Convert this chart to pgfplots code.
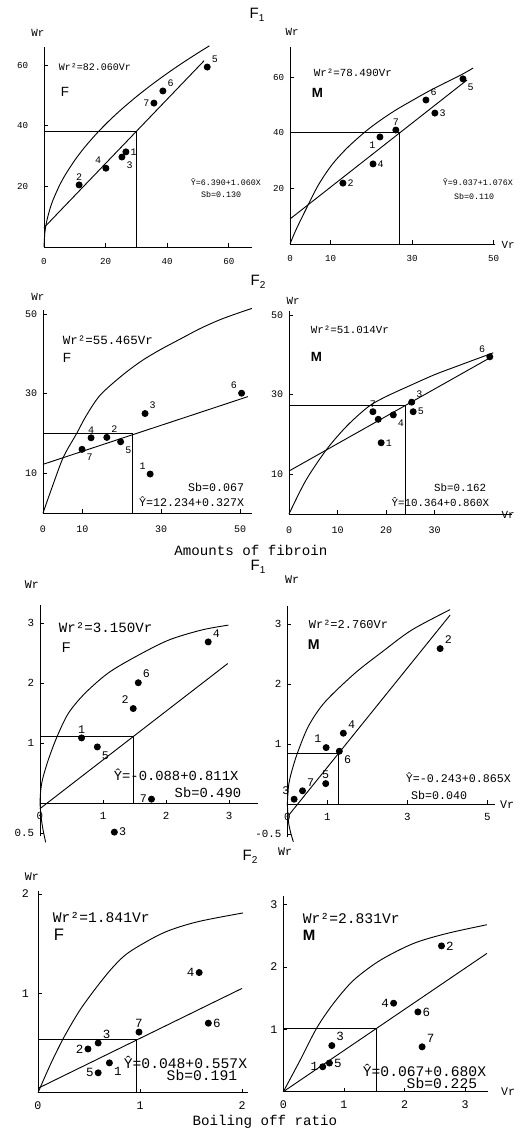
\documentclass[border=0pt]{standalone}
\usepackage{fontspec}
\setmainfont{Liberation Mono}
\newfontfamily\sfF{Liberation Sans}
\usepackage{pgfplots}
\pgfplotsset{compat=1.18}
\newcommand{\fs}[1]{\fontsize{#1}{#1}\selectfont}
\pgfplotsset{
  panel/.style={scale only axis, clip=false, anchor=south west,
    axis lines*=left, axis line style={line width=0.5pt},
    tick align=inside, major tick length=2.2pt,
    tick style={line width=0.5pt,black},
    /pgf/number format/assume math mode=true,
    hide obscured x ticks=false, hide obscured y ticks=false,
    every axis plot/.append style={line width=0.55pt,black}},
  dots/.style={only marks, mark=*, mark size=1.8pt},
  crv/.style={smooth, tension=0.5},
}
\tikzset{lb/.style={inner sep=2.6pt, font=\fs{#1}}}
\begin{document}
\begin{tikzpicture}
\useasboundingbox (0,0) rectangle (312.6pt,-681pt);

% ---------- row 1 left: F1, F
\begin{axis}[panel, at={(26.4pt,-148.2pt)}, x=1.848pt, y=1.818pt,
  xmin=0, xmax=67.5, ymin=0, ymax=66, xtick={0,20,40,60}, ytick={20,40,60},
  ticklabel style={font=\fs{5.5}}, xticklabel style={yshift=-3.5pt}, yticklabel style={xshift=-6pt}]
\addplot[crv] coordinates {(0,0) (0.25,4.53) (0.5,6.41) (1,9.06) (2,12.81) (3,15.69) (5,20.26) (7,23.97) (10,28.65) (13,32.67) (17,37.36) (21,41.52) (25,45.30) (30,49.62) (35,53.60) (40,57.30) (45,60.78) (50,64.06) (53.7,66.4)};
\addplot[sharp plot] coordinates {(0,6.39) (52,61.5)};
\addplot[sharp plot] coordinates {(0,38.2) (30,38.2) (30,0)};
\addplot[dots] coordinates {(53,59.4) (38.6,51.5) (35.7,47.5) (26.6,31.4) (25.3,29.7) (20.1,26) (11.4,20.5)};
\node[lb=6,anchor=south west] at (axis cs:53,59.4) {5};
\node[lb=6,anchor=south west] at (axis cs:38.6,51.5) {6};
\node[lb=6,anchor=east] at (axis cs:35.7,47.5) {7};
\node[lb=6,anchor=west] at (axis cs:26.6,31.4) {1};
\node[lb=6,anchor=north west] at (axis cs:25.3,29.7) {3};
\node[lb=6,anchor=south east] at (axis cs:20.1,26) {4};
\node[lb=6,anchor=south] at (axis cs:11.4,20.5) {2};
\end{axis}

% ---------- row 1 right: F1, M
\begin{axis}[panel, at={(174pt,-146.4pt)}, x=2.442pt, y=1.668pt,
  xmin=0, xmax=50.4, ymin=0, ymax=70.9, xtick={0,10,30,50}, ytick={20,40,60},
  ticklabel style={font=\fs{5.5}}, xticklabel style={yshift=-3.5pt}, yticklabel style={xshift=0pt}]
\addplot[crv] coordinates {(0,0) (1.5,5.2) (4.2,13.3) (7,21.3) (10.3,28.5) (14,34.5) (18.4,40.3) (22,44.3) (26,48.2) (30,51.6) (34,54.9) (38,57.9) (42,60.8) (45,63.3)};
\addplot[sharp plot] coordinates {(0,9.0) (43.5,59)};
\addplot[sharp plot] coordinates {(0,40.0) (27,40.0) (27,0)};
\addplot[dots] coordinates {(42.5,59.4) (33.4,51.8) (35.6,47.1) (26.0,41.0) (22.1,38.5) (20.4,28.8) (13.0,21.9)};
\node[lb=6,anchor=north west] at (axis cs:42.5,59.4) {5};
\node[lb=6,anchor=south west] at (axis cs:33.4,51.8) {6};
\node[lb=6,anchor=west] at (axis cs:35.6,47.1) {3};
\node[lb=6,anchor=south] at (axis cs:26.0,41.0) {7};
\node[lb=6,anchor=north east] at (axis cs:22.1,38.5) {1};
\node[lb=6,anchor=west] at (axis cs:20.4,28.8) {4};
\node[lb=6,anchor=west] at (axis cs:13.0,21.9) {2};
\end{axis}

% ---------- row 2 left: F2, F
\begin{axis}[panel, at={(25.8pt,-307.8pt)}, x=2.364pt, y=2.388pt,
  xmin=0, xmax=53, ymin=0, ymax=51, xtick={0,10,30,50}, ytick={10,30,50},
  ticklabel style={font=\fs{6}}, xticklabel style={yshift=-4pt}, yticklabel style={xshift=0pt}]
\addplot[crv] coordinates {(0,0) (2.5,7) (5.2,14.1) (8.55,20) (11,24.5) (14.5,29.6) (20,34.5) (25,38.2) (29.7,41) (35,43.8) (40,46.4) (45,48.6) (50,50.4) (53,51.4)};
\addplot[sharp plot] coordinates {(0,12.23) (52,29.24)};
\addplot[sharp plot] coordinates {(0,19.9) (22.8,19.9) (22.8,0)};
\addplot[dots] coordinates {(50.4,30.1) (25.9,25.0) (12.2,18.9) (16.2,19.0) (19.7,17.9) (9.9,16.0) (27.2,9.8)};
\node[lb=6,anchor=south east] at (axis cs:50.4,30.1) {6};
\node[lb=6,anchor=south west] at (axis cs:25.9,25.0) {3};
\node[lb=6,anchor=south] at (axis cs:12.2,18.9) {4};
\node[lb=6,anchor=south west] at (axis cs:16.2,19.0) {2};
\node[lb=6,anchor=north west] at (axis cs:19.7,17.9) {5};
\node[lb=6,anchor=north west] at (axis cs:9.9,16.0) {7};
\node[lb=6,anchor=south east] at (axis cs:27.2,9.8) {1};
\end{axis}

% ---------- row 2 right: F2, M
\begin{axis}[panel, at={(173.4pt,-308.4pt)}, x=2.91pt, y=2.388pt,
  xmin=0, xmax=46, ymin=0, ymax=51, xtick={0,10,20,30}, ytick={10,30,50},
  ticklabel style={font=\fs{6}}, xticklabel style={yshift=-4pt}, yticklabel style={xshift=0pt}]
\addplot[crv] coordinates {(0,0) (3.5,8.5) (7.8,16.3) (12,22.2) (16.4,27) (20,29.5) (25,32.3) (30,35.0) (35,37.3) (42.1,40.5)};
\addplot[sharp plot] coordinates {(0,10.8) (41.8,39.5)};
\addplot[sharp plot] coordinates {(0,27.3) (24.1,27.3) (24.1,0)};
\addplot[dots] coordinates {(41.4,39.5) (25.3,28.1) (25.6,25.7) (17.3,25.7) (18.4,23.8) (21.5,24.9) (19.0,17.9)};
\node[lb=6,anchor=south east] at (axis cs:41.4,39.5) {6};
\node[lb=6,anchor=south west] at (axis cs:25.3,28.1) {3};
\node[lb=6,anchor=west] at (axis cs:25.6,25.7) {5};
\node[lb=6,anchor=south] at (axis cs:17.3,25.7) {7};
\node[lb=6,anchor=north west] at (axis cs:21.5,24.9) {4};
\node[lb=6,anchor=west] at (axis cs:19.0,17.9) {1};
\end{axis}

% ---------- row 3 left: F1, F (boiling off)
\begin{axis}[panel, axis x line*=middle, axis y line*=left, at={(24pt,-501.8pt)}, x=37.8pt, y=36pt,
  xmin=0, xmax=3.46, ymin=-0.55, ymax=3.3, xtick={0,1,2,3}, ytick={-0.5,1,2,3}, yticklabels={0.5,1,2,3},
  ticklabel style={font=\fs{6.5}}, xticklabel style={yshift=-2pt}, yticklabel style={xshift=0pt}]
\addplot[crv] coordinates {(0,0) (0.01,0.2) (0.04,0.4) (0.13,0.72) (0.27,1.11) (0.45,1.50) (0.71,1.83) (1.08,2.17) (1.51,2.44) (2.04,2.72) (2.57,2.89) (2.99,2.97)};
\addplot[crv] coordinates {(0,0) (0.02,-0.25) (0.05,-0.45) (0.09,-0.65)};
\addplot[sharp plot] coordinates {(0,-0.088) (2.98,2.33)};
\addplot[sharp plot] coordinates {(0,1.11) (1.48,1.11) (1.48,0)};
\addplot[dots] coordinates {(2.67,2.69) (1.56,2.01) (1.48,1.58) (0.66,1.09) (0.91,0.94) (1.77,0.07) (1.18,-0.48)};
\node[lb=7,anchor=south west] at (axis cs:2.67,2.69) {4};
\node[lb=7,anchor=south west] at (axis cs:1.56,2.01) {6};
\node[lb=7,anchor=south east] at (axis cs:1.48,1.58) {2};
\node[lb=7,anchor=south] at (axis cs:0.66,1.09) {1};
\node[lb=7,anchor=north west] at (axis cs:0.91,0.94) {5};
\node[lb=7,anchor=east] at (axis cs:1.77,0.07) {7};
\node[lb=7,anchor=west] at (axis cs:1.18,-0.48) {3};
\end{axis}

% ---------- row 3 right: F1, M
\begin{axis}[panel, axis x line*=middle, axis y line*=left, at={(172.4pt,-502.2pt)}, x=24pt, y=36pt,
  xmin=0, xmax=5.2, ymin=-0.55, ymax=3.3, xtick={0,1,3,5}, ytick={-0.5,1,2,3}, yticklabels={-0.5,1,2,3},
  ticklabel style={font=\fs{6.5}}, xticklabel style={yshift=-2pt}, yticklabel style={xshift=0pt}]
\addplot[crv] coordinates {(0,0) (0.03,0.3) (0.1,0.52) (0.25,0.845) (0.53,1.3) (0.94,1.7) (1.69,2.18) (2.36,2.53) (3.11,2.9) (4.07,3.24)};
\addplot[crv] coordinates {(0,0) (0.03,-0.3) (0.08,-0.47) (0.15,-0.63)};
\addplot[sharp plot] coordinates {(0.03,-0.19) (4.07,3.15)};
\addplot[sharp plot] coordinates {(0,0.845) (1.28,0.845) (1.28,0)};
\addplot[dots] coordinates {(3.82,2.59) (1.40,1.18) (0.97,0.94) (1.3,0.88) (0.96,0.34) (0.38,0.22) (0.17,0.08)};
\node[lb=7,anchor=south west] at (axis cs:3.82,2.59) {2};
\node[lb=7,anchor=south west] at (axis cs:1.40,1.18) {4};
\node[lb=7,anchor=south east] at (axis cs:0.97,0.94) {1};
\node[lb=7,anchor=north west] at (axis cs:1.3,0.88) {6};
\node[lb=7,anchor=south] at (axis cs:0.96,0.34) {5};
\node[lb=7,anchor=south west] at (axis cs:0.38,0.22) {7};
\node[lb=7,anchor=south east] at (axis cs:0.17,0.08) {3};
\end{axis}

% ---------- row 4 left: F2, F
\begin{axis}[panel, at={(22.8pt,-655.6pt)}, x=61.2pt, y=59.58pt,
  xmin=0, xmax=2.06, ymin=0, ymax=2.03, xtick={0,1,2}, ytick={1,2},
  ticklabel style={font=\fs{7}}, xticklabel style={yshift=-2pt}, yticklabel style={xshift=-2pt}]
\addplot[crv] coordinates {(0,0) (0.12,0.28) (0.25,0.55) (0.41,0.83) (0.58,1.07) (0.74,1.27) (0.90,1.42) (1.23,1.61) (1.56,1.72) (2.01,1.81)};
\addplot[sharp plot] coordinates {(0,0.044) (2.0,1.05)};
\addplot[sharp plot] coordinates {(0,0.54) (0.97,0.54) (0.97,0)};
\addplot[dots] coordinates {(1.58,1.21) (1.67,0.70) (0.99,0.61) (0.59,0.50) (0.49,0.44) (0.70,0.30) (0.59,0.20)};
\node[lb=7.5,anchor=east] at (axis cs:1.58,1.21) {4};
\node[lb=7.5,anchor=west] at (axis cs:1.67,0.70) {6};
\node[lb=7.5,anchor=south] at (axis cs:0.99,0.61) {7};
\node[lb=7.5,anchor=south west] at (axis cs:0.59,0.50) {3};
\node[lb=7.5,anchor=east] at (axis cs:0.49,0.44) {2};
\node[lb=7.5,anchor=north west] at (axis cs:0.70,0.30) {1};
\node[lb=7.5,anchor=east] at (axis cs:0.59,0.20) {5};
\end{axis}

% ---------- row 4 right: F2, M
\begin{axis}[panel, at={(170pt,-655pt)}, x=36.36pt, y=37.38pt,
  xmin=0, xmax=3.38, ymin=0, ymax=3.14, xtick={0,1,2,3}, ytick={1,2,3},
  ticklabel style={font=\fs{7}}, xticklabel style={yshift=-2pt}, yticklabel style={xshift=0pt}]
\addplot[crv] coordinates {(0,0) (0.28,0.51) (0.55,1.02) (0.83,1.42) (1.16,1.79) (1.60,2.11) (2.15,2.38) (2.70,2.54) (3.36,2.68)};
\addplot[sharp plot] coordinates {(0,0) (3.36,2.22)};
\addplot[sharp plot] coordinates {(0,1.02) (1.54,1.02) (1.54,0)};
\addplot[dots] coordinates {(2.61,2.34) (1.82,1.42) (2.22,1.28) (2.29,0.72) (0.80,0.74) (0.65,0.40) (0.76,0.46)};
\node[lb=7.5,anchor=west] at (axis cs:2.61,2.34) {2};
\node[lb=7.5,anchor=east] at (axis cs:1.82,1.42) {4};
\node[lb=7.5,anchor=west] at (axis cs:2.22,1.28) {6};
\node[lb=7.5,anchor=south west] at (axis cs:2.29,0.72) {7};
\node[lb=7.5,anchor=south west] at (axis cs:0.80,0.74) {3};
\node[lb=7.5,anchor=east] at (axis cs:0.65,0.40) {1};
\node[lb=7.5,anchor=west] at (axis cs:0.76,0.46) {5};
\end{axis}

% ---------- texts, placed in pixel units of the reference
\begin{scope}[x=0.6pt, y=-0.6pt]
\newcommand{\Fh}[1]{{\sfF\fs{9}F\raisebox{-0.4ex}{\fs{6}#1}}}
\node at (257,15) {\Fh{1}};
\node at (258,282) {\Fh{2}};
\node at (258,567) {\Fh{1}};
\node at (250,857) {\Fh{2}};
\node[font=\fs{8.5}] at (251,550) {Amounts of fibroin};
\node[font=\fs{8.5}] at (265,1122) {Boiling off ratio};
% Wr / Vr axis names
\node[font=\fs{6.5}] at (38,33) {Wr};
\node[font=\fs{6.5}] at (292,32) {Wr};
\node[font=\fs{6.5}] at (38,297) {Wr};
\node[font=\fs{6.5}] at (293,301) {Wr};
\node[font=\fs{7}] at (32,585) {Wr};
\node[font=\fs{7}] at (292,580) {Wr};
\node[font=\fs{7}] at (32,877) {Wr};
\node[font=\fs{7}] at (285,852) {Wr};
\node[font=\fs{6.5}] at (508,245) {Vr};
\node[font=\fs{6.5}] at (508,515) {Vr};
\node[font=\fs{7}] at (507,805) {Vr};
\node[font=\fs{7}] at (508,1092) {Vr};
% panel 1
\node[anchor=west,font=\fs{6}] at (53,67) {Wr²=82.060Vr};
\node[anchor=west,font=\sfF\fs{8}] at (55,92) {F};
\node[anchor=west,font=\fs{5}] at (185,182) {Ŷ=6.390+1.060X};
\node[anchor=east,font=\fs{5}] at (247,195) {Sb=0.130};
% panel 2
\node[anchor=west,font=\fs{6.5}] at (308,73) {Wr²=78.490Vr};
\node[anchor=west,font=\sfF\bfseries\fs{8}] at (306,93) {M};
\node[anchor=west,font=\fs{5}] at (437,182) {Ŷ=9.037+1.076X};
\node[anchor=east,font=\fs{5}] at (500,197) {Sb=0.110};
% panel 3
\node[anchor=west,font=\fs{7.5}] at (57,340) {Wr²=55.465Vr};
\node[anchor=west,font=\sfF\fs{8}] at (57,358) {F};
\node[anchor=east,font=\fs{7}] at (250,487) {Sb=0.067};
\node[anchor=east,font=\fs{7}] at (250,502) {Ŷ=12.234+0.327X};
% panel 4
\node[anchor=west,font=\fs{6.5}] at (305,330) {Wr²=51.014Vr};
\node[anchor=west,font=\sfF\bfseries\fs{8}] at (305,357) {M};
\node[anchor=east,font=\fs{6.5}] at (492,488) {Sb=0.162};
\node[anchor=east,font=\fs{6.5}] at (495,502) {Ŷ=10.364+0.860X};
% panel 5
\node[anchor=west,font=\fs{8.5}] at (53,628) {Wr²=3.150Vr};
\node[anchor=west,font=\sfF\fs{8.5}] at (56,648) {F};
\node[anchor=west,font=\fs{8.3}] at (108,775) {Ŷ=-0.088+0.811X};
\node[anchor=east,font=\fs{8.3}] at (247,793) {Sb=0.490};
% panel 6
\node[anchor=west,font=\fs{7.2}] at (303,624) {Wr²=2.760Vr};
\node[anchor=west,font=\sfF\bfseries\fs{8.5}] at (302,645) {M};
\node[anchor=west,font=\fs{7}] at (400,778) {Ŷ=-0.243+0.865X};
\node[anchor=east,font=\fs{7}] at (473,795) {Sb=0.040};
% panel 7
\node[anchor=west,font=\fs{8.8}] at (47,917) {Wr²=1.841Vr};
\node[anchor=west,font=\sfF\fs{10}] at (48,935) {F};
\node[anchor=west,font=\fs{8.8}] at (118,1062) {Ŷ=0.048+0.557X};
\node[anchor=east,font=\fs{8.8}] at (243,1075) {Sb=0.191};
% panel 8
\node[anchor=west,font=\fs{8.8}] at (297,918) {Wr²=2.831Vr};
\node[anchor=west,font=\sfF\bfseries\fs{9}] at (297,935) {M};
\node[anchor=west,font=\fs{8.8}] at (357,1070) {Ŷ=0.067+0.680X};
\node[anchor=east,font=\fs{8.8}] at (483,1083) {Sb=0.225};
\end{scope}
\end{tikzpicture}
\end{document}
